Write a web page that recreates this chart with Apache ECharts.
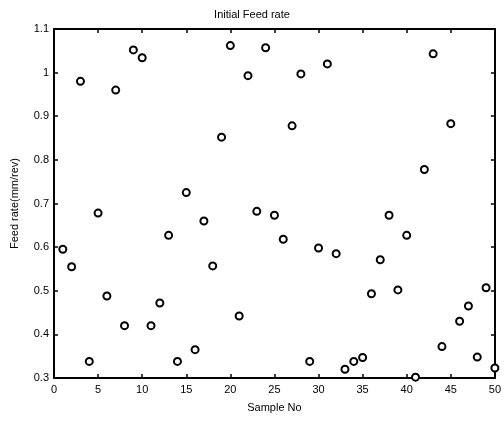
<!DOCTYPE html>
<html><head><meta charset="utf-8">
<script src="https://cdn.jsdelivr.net/npm/echarts@6/dist/echarts.min.js"></script>
<style>html,body{margin:0;padding:0;background:#fff}#c{width:504px;height:421px}</style>
</head><body><div id="c"></div>
<script>
var sampleNo = [1,2,3,4,5,6,7,8,9,10,11,12,13,14,15,16,17,18,19,20,21,22,23,24,25,26,27,28,29,30,31,32,33,34,35,36,37,38,39,40,41,42,43,44,45,46,47,48,49,50];
var feedRate = [0.595,0.555,0.98,0.338,0.678,0.488,0.96,0.42,1.052,1.034,0.42,0.472,0.627,0.338,0.725,0.365,0.66,0.557,0.852,1.062,0.442,0.993,0.682,1.057,0.673,0.618,0.878,0.997,0.338,0.598,1.02,0.585,0.32,0.338,0.347,0.493,0.571,0.673,0.502,0.627,0.302,0.778,1.043,0.372,0.883,0.43,0.465,0.348,0.507,0.323];
var xTicks = [0,5,10,15,20,25,30,35,40,45,50];
var yTicks = [0.3,0.4,0.5,0.6,0.7,0.8,0.9,1,1.1];

var data = sampleNo.map(function(x,i){return [x, feedRate[i]];});
var font = 'Liberation Sans, Arial, sans-serif';
function axisCommon(){
  return {
    axisLine:{show:true,onZero:false,lineStyle:{color:'#000',width:2}},
    axisTick:{show:true,inside:true,length:4,lineStyle:{color:'#000',width:1.5}},
    splitLine:{show:false}
  };
}
var chart = echarts.init(document.getElementById('c'));
chart.setOption({
  animation:false,
  backgroundColor:'#fff',
  title:{text:'Initial Feed rate',left:'center',top:4,textStyle:{fontFamily:font,fontSize:11,fontWeight:'normal',color:'#000'}},
  grid:{left:54,right:7,top:29,bottom:43},
  xAxis:[
    Object.assign({type:'value',min:xTicks[0],max:xTicks[xTicks.length-1],interval:5,position:'bottom',
      name:'Sample No',nameLocation:'middle',nameGap:24,
      nameTextStyle:{fontFamily:font,fontSize:11,color:'#000'},
      axisLabel:{fontFamily:font,fontSize:11,color:'#000',margin:6}},axisCommon()),
    Object.assign({type:'value',min:xTicks[0],max:xTicks[xTicks.length-1],interval:5,position:'top',
      axisLabel:{show:false}},axisCommon())
  ],
  yAxis:[
    Object.assign({type:'value',min:yTicks[0],max:yTicks[yTicks.length-1],interval:0.1,position:'left',
      name:'Feed rate(mm/rev)',nameLocation:'middle',nameGap:34,
      nameTextStyle:{fontFamily:font,fontSize:11,color:'#000'},
      axisLabel:{fontFamily:font,fontSize:11,color:'#000',margin:5,
        formatter:function(v){return String(Math.round(v*10)/10);}}},axisCommon()),
    Object.assign({type:'value',min:yTicks[0],max:yTicks[yTicks.length-1],interval:0.1,position:'right',
      axisLabel:{show:false}},axisCommon())
  ],
  series:[{
    type:'scatter',data:data,symbol:'circle',symbolSize:7,
    itemStyle:{color:'#fff',borderColor:'#000',borderWidth:2,opacity:1}
  }]
});
</script></body></html>
